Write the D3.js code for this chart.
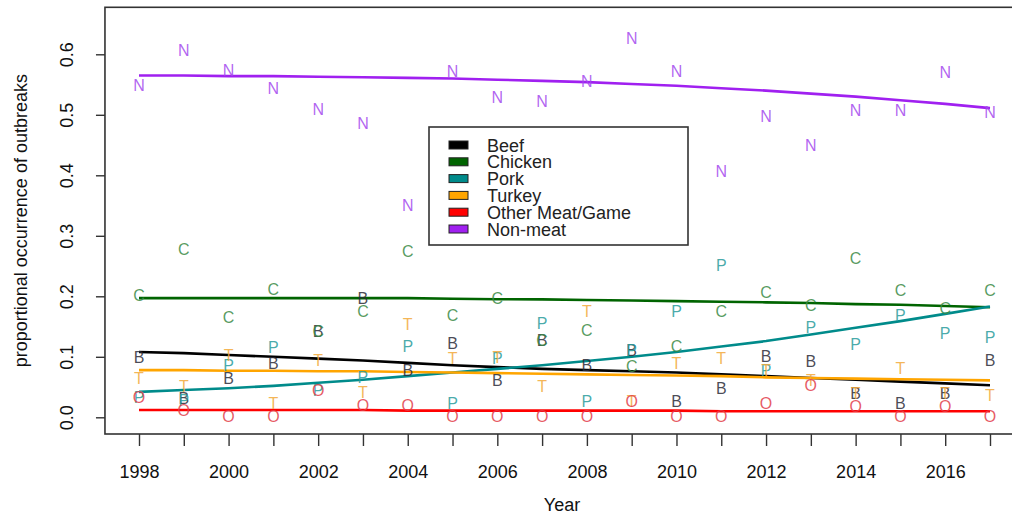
<!DOCTYPE html>
<html>
<head>
<meta charset="utf-8">
<script src="https://cdn.jsdelivr.net/npm/d3@7"></script>
<style>
  html, body { margin: 0; padding: 0; background: #fff; }
  svg { display: block; font-family: "Liberation Sans", Arial, sans-serif; }
</style>
</head>
<body>
<svg id="chart" width="1012" height="517"></svg>
<script>
// ---------- data ----------
const years = [1998, 1999, 2000, 2001, 2002, 2003, 2004, 2005, 2006, 2007,
               2008, 2009, 2010, 2011, 2012, 2013, 2014, 2015, 2016, 2017];
const xTickLabels = ["1998", "2000", "2002", "2004", "2006", "2008", "2010", "2012", "2014", "2016"];
const yTicks = [0.0, 0.1, 0.2, 0.3, 0.4, 0.5, 0.6];

const categories = ["Beef", "Chicken", "Pork", "Turkey", "Other Meat/Game", "Non-meat"];
const letters = ["B", "C", "P", "T", "O", "N"];

// observed proportions (letters)
const beefObs    = [0.099, 0.031, 0.064, 0.090, 0.143, 0.197, 0.078, 0.122, 0.062, 0.128, 0.086, 0.111, 0.026, 0.048, 0.101, 0.092, 0.039, 0.023, 0.039, 0.095];
const chickenObs = [0.202, 0.277, 0.166, 0.211, 0.143, 0.175, 0.274, 0.169, 0.197, 0.128, 0.144, 0.084, 0.117, 0.175, 0.206, 0.186, 0.263, 0.210, 0.180, 0.210];
const porkObs    = [0.033, 0.028, 0.086, 0.115, 0.045, 0.067, 0.117, 0.023, 0.098, 0.155, 0.027, 0.111, 0.176, 0.252, 0.078, 0.149, 0.121, 0.169, 0.139, 0.133];
const turkeyObs  = [0.064, 0.052, 0.103, 0.023, 0.095, 0.042, 0.153, 0.098, 0.100, 0.051, 0.175, 0.026, 0.089, 0.098, 0.078, 0.062, 0.039, 0.081, 0.039, 0.037];
const otherObs   = [0.033, 0.012, 0.001, 0.001, 0.045, 0.020, 0.020, 0.001, 0.001, 0.001, 0.001, 0.026, 0.001, 0.001, 0.023, 0.053, 0.018, 0.001, 0.018, 0.001];
const nonmeatObs = [0.549, 0.606, 0.574, 0.544, 0.510, 0.486, 0.351, 0.572, 0.529, 0.523, 0.555, 0.627, 0.572, 0.406, 0.497, 0.450, 0.508, 0.508, 0.570, 0.505];

// fitted trend lines
const beefFit    = [0.108, 0.106, 0.103, 0.100, 0.097, 0.094, 0.090, 0.086, 0.083, 0.080, 0.078, 0.076, 0.074, 0.071, 0.068, 0.065, 0.062, 0.059, 0.056, 0.053];
const chickenFit = [0.197, 0.197, 0.197, 0.197, 0.197, 0.197, 0.197, 0.196, 0.195, 0.195, 0.194, 0.193, 0.192, 0.191, 0.190, 0.189, 0.187, 0.186, 0.184, 0.182];
const porkFit    = [0.042, 0.045, 0.048, 0.052, 0.057, 0.062, 0.068, 0.074, 0.080, 0.086, 0.093, 0.100, 0.108, 0.117, 0.126, 0.137, 0.148, 0.159, 0.171, 0.183];
const turkeyFit  = [0.078, 0.078, 0.077, 0.077, 0.076, 0.076, 0.075, 0.074, 0.073, 0.072, 0.071, 0.070, 0.069, 0.068, 0.066, 0.065, 0.064, 0.063, 0.062, 0.061];
const otherFit   = [0.012, 0.012, 0.012, 0.012, 0.012, 0.012, 0.011, 0.011, 0.011, 0.011, 0.011, 0.011, 0.011, 0.010, 0.010, 0.010, 0.010, 0.010, 0.010, 0.010];
const nonmeatFit = [0.565, 0.565, 0.564, 0.564, 0.563, 0.562, 0.561, 0.560, 0.558, 0.556, 0.554, 0.551, 0.548, 0.544, 0.540, 0.535, 0.530, 0.524, 0.518, 0.511];

const obsSeries = [beefObs, chickenObs, porkObs, turkeyObs, otherObs, nonmeatObs];
const fitSeries = [beefFit, chickenFit, porkFit, turkeyFit, otherFit, nonmeatFit];

// ---------- styles ----------
const lineColors   = ["#000000", "#006400", "#008B8B", "#FFA500", "#FF0000", "#A020F0"];
const letterColors = ["#2b2b38", "#3a8a45", "#2a9c9c", "#f2a93a", "#e23e4a", "#a448ee"];
const FONT = 18;

// ---------- layout ----------
const svg = d3.select("#chart");
const x = d3.scaleLinear().domain([1998, 2017]).range([139, 990]);
const y = d3.scaleLinear().domain([0, 0.6]).range([417.3, 54.3]);
const box = { left: x(1998 - 0.76), right: x(2017 + 0.76), top: 7.3, bottom: 434 };

svg.append("rect").attr("width", 1012).attr("height", 517).attr("fill", "#fff");

// plot box
svg.append("rect")
  .attr("x", box.left).attr("y", box.top)
  .attr("width", box.right - box.left).attr("height", box.bottom - box.top)
  .attr("fill", "none").attr("stroke", "#333").attr("stroke-width", 1.6);

// x axis
const xAxisG = svg.append("g").attr("transform", `translate(0,${box.bottom})`);
xAxisG.call(d3.axisBottom(x).tickValues(years).tickSize(12).tickSizeOuter(0)
  .tickFormat(d => xTickLabels.includes(String(d)) ? String(d) : ""));
xAxisG.select(".domain").remove();
xAxisG.selectAll(".tick line").attr("stroke", "#333").attr("stroke-width", 1.4);
xAxisG.selectAll(".tick text").attr("font-size", FONT).attr("fill", "#111")
  .attr("font-family", "Liberation Sans, Arial, sans-serif").attr("y", 31).attr("dy", "0.71em");

// y axis
const yAxisG = svg.append("g").attr("transform", `translate(${box.left},0)`);
yAxisG.call(d3.axisLeft(y).tickValues(yTicks).tickSize(9).tickSizeOuter(0).tickFormat(d3.format(".1f")));
yAxisG.select(".domain").remove();
yAxisG.selectAll(".tick line").attr("stroke", "#333").attr("stroke-width", 1.4);
yAxisG.selectAll(".tick text")
  .attr("font-size", FONT).attr("fill", "#111")
  .attr("font-family", "Liberation Sans, Arial, sans-serif")
  .attr("x", null).attr("dy", null)
  .attr("text-anchor", "middle")
  .attr("transform", "translate(-32,0) rotate(-90)");

// axis titles
svg.append("text").attr("x", 562)
  .attr("y", 511).attr("text-anchor", "middle").attr("font-size", FONT).attr("fill", "#111")
  .text("Year");
svg.append("text")
  .attr("transform", `translate(27,${(box.top + box.bottom) / 2}) rotate(-90)`)
  .attr("text-anchor", "middle").attr("font-size", FONT).attr("fill", "#111")
  .text("proportional occurrence of outbreaks");

// fitted lines
const line = d3.line().x((d, i) => x(years[i])).y(d => y(d));
fitSeries.forEach((s, k) => {
  svg.append("path").datum(s).attr("d", line)
    .attr("fill", "none").attr("stroke", lineColors[k]).attr("stroke-width", 2.6);
});

// letters (observed)
obsSeries.forEach((s, k) => {
  svg.append("g").selectAll("text").data(s).join("text")
    .attr("x", (d, i) => x(years[i])).attr("y", d => y(d))
    .attr("dy", "0.36em").attr("text-anchor", "middle")
    .attr("font-size", 16).attr("fill", letterColors[k]).attr("fill-opacity", 0.85)
    .text(letters[k]);
});

// legend
const lg = svg.append("g");
lg.append("rect").attr("x", 429).attr("y", 127).attr("width", 259).attr("height", 118)
  .attr("fill", "#fff").attr("stroke", "#333").attr("stroke-width", 1.6);
categories.forEach((c, k) => {
  const cy = 145 + k * 16.8;
  lg.append("rect").attr("x", 449).attr("y", cy - 4).attr("width", 19).attr("height", 8)
    .attr("fill", lineColors[k]).attr("stroke", "#222").attr("stroke-width", 1);
  lg.append("text").attr("x", 487).attr("y", cy + 6.5).attr("font-size", FONT).attr("fill", "#222").text(c);
});
</script>
</body>
</html>
